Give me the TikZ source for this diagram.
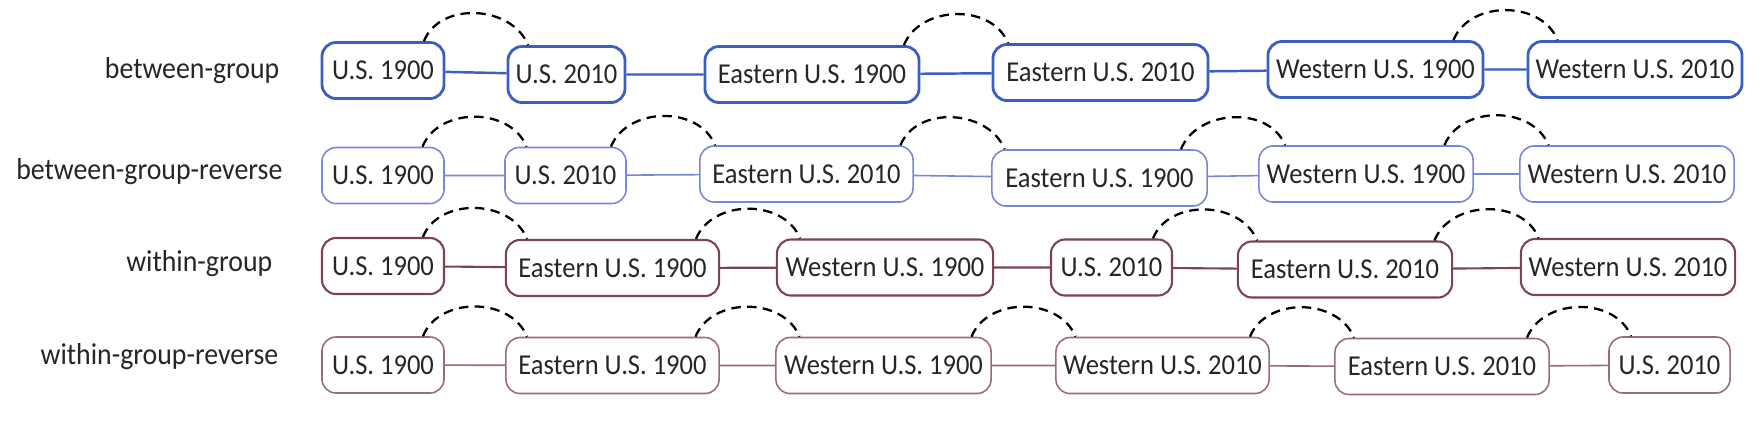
\documentclass[tikz,border=0pt]{standalone}
\usepackage{fontspec}
\setmainfont[FakeStretch=0.92]{Carlito}
\usetikzlibrary{calc}
\usepackage{xcolor}

\definecolor{btwblue}{RGB}{58,95,192}
\definecolor{revblue}{RGB}{122,134,216}
\definecolor{wthred}{RGB}{122,69,80}
\definecolor{wrevred}{RGB}{156,108,116}

% dashed dome over the gap between two boxes
\newcommand\gaparc[2]{%
  \coordinate (m) at ($(#1.east)!.5!(#2.west)$);
  \coordinate (ms) at ([xshift=-0.52cm]m);
  \coordinate (me) at ([xshift=0.52cm]m);
  \draw[dome] (ms |- #1.north) .. controls +(16,-40) and +(-16,-40) .. (me |- #2.north);
}

\begin{document}
\begin{tikzpicture}[x=0.01cm,y=-0.01cm,
  box/.style={rounded corners=4pt, inner sep=0pt, minimum height=0.56cm,
    text=black!85, font=\fontsize{8.2}{10}\selectfont},
  btw/.style={box, draw=btwblue, line width=0.8pt},
  rev/.style={box, draw=revblue, line width=0.45pt},
  wth/.style={box, draw=wthred, line width=0.6pt},
  wrev/.style={box, draw=wrevred, line width=0.45pt},
  rowlabel/.style={anchor=east, inner sep=0pt, text=black!85, font=\fontsize{8.6}{10}\selectfont},
  dome/.style={black, line width=0.65pt, dash pattern=on 2.7pt off 1.8pt}]
  \useasboundingbox (0,0) rectangle (1762,438);

  % between-group
  \node[rowlabel] (lA) at (280,71) {between-group};
  \node[btw, minimum width=1.22cm] (A1) at (383,70.5) {U.S. 1900};
  \node[btw, minimum width=1.17cm] (A2) at (566.5,74.5) {U.S. 2010};
  \node[btw, minimum width=2.14cm] (A3) at (812,74.5) {Eastern U.S. 1900};
  \node[btw, minimum width=2.15cm] (A4) at (1100.5,72.5) {Eastern U.S. 2010};
  \node[btw, minimum width=2.15cm] (A5) at (1375.5,69.5) {Western U.S. 1900};
  \node[btw, minimum width=2.14cm] (A6) at (1635,69.5) {Western U.S. 2010};
  \draw[btwblue, line width=0.7pt] (A1) -- (A2) -- (A3) -- (A4) -- (A5) -- (A6);
  \gaparc{A1}{A2}
  \gaparc{A3}{A4}
  \gaparc{A5}{A6}

  % between-group-reverse
  \node[rowlabel] (lB) at (283,172) {between-group-reverse};
  \node[rev, minimum width=1.22cm] (B1) at (383,175.5) {U.S. 1900};
  \node[rev, minimum width=1.21cm] (B2) at (565.5,175.5) {U.S. 2010};
  \node[rev, minimum width=2.13cm] (B3) at (806.5,174) {Eastern U.S. 2010};
  \node[rev, minimum width=2.15cm] (B4) at (1099.5,178) {Eastern U.S. 1900};
  \node[rev, minimum width=2.14cm] (B5) at (1366,174) {Western U.S. 1900};
  \node[rev, minimum width=2.14cm] (B6) at (1627,174) {Western U.S. 2010};
  \draw[revblue, line width=0.45pt] (B1) -- (B2) -- (B3) -- (B4) -- (B5) -- (B6);
  \gaparc{B1}{B2}
  \gaparc{B2}{B3}
  \gaparc{B3}{B4}
  \gaparc{B4}{B5}
  \gaparc{B5}{B6}

  % within-group
  \node[rowlabel] (lC) at (273,264) {within-group};
  \node[wth, minimum width=1.22cm] (C1) at (383,266) {U.S. 1900};
  \node[wth, minimum width=2.13cm] (C2) at (612.5,268) {Eastern U.S. 1900};
  \node[wth, minimum width=2.16cm] (C3) at (885,267.5) {Western U.S. 1900};
  \node[wth, minimum width=1.21cm] (C4) at (1111.5,267.5) {U.S. 2010};
  \node[wth, minimum width=2.14cm] (C5) at (1345,269.5) {Eastern U.S. 2010};
  \node[wth, minimum width=2.14cm] (C6) at (1628,267) {Western U.S. 2010};
  \draw[wthred, line width=0.6pt] (C1) -- (C2) -- (C3) -- (C4) -- (C5) -- (C6);
  \gaparc{C1}{C2}
  \gaparc{C2}{C3}
  \gaparc{C4}{C5}
  \gaparc{C5}{C6}

  % within-group-reverse
  \node[rowlabel] (lD) at (279,357) {within-group-reverse};
  \node[wrev, minimum width=1.22cm] (D1) at (383,365) {U.S. 1900};
  \node[wrev, minimum width=2.13cm] (D2) at (612.5,365.5) {Eastern U.S. 1900};
  \node[wrev, minimum width=2.15cm] (D3) at (883.5,365.5) {Western U.S. 1900};
  \node[wrev, minimum width=2.13cm] (D4) at (1162.5,365.5) {Western U.S. 2010};
  \node[wrev, minimum width=2.14cm] (D5) at (1442,366.5) {Eastern U.S. 2010};
  \node[wrev, minimum width=1.21cm] (D6) at (1669.5,365) {U.S. 2010};
  \draw[wrevred, line width=0.45pt] (D1) -- (D2) -- (D3) -- (D4) -- (D5) -- (D6);
  \gaparc{D1}{D2}
  \gaparc{D2}{D3}
  \gaparc{D3}{D4}
  \gaparc{D4}{D5}
  \gaparc{D5}{D6}
\end{tikzpicture}
\end{document}
